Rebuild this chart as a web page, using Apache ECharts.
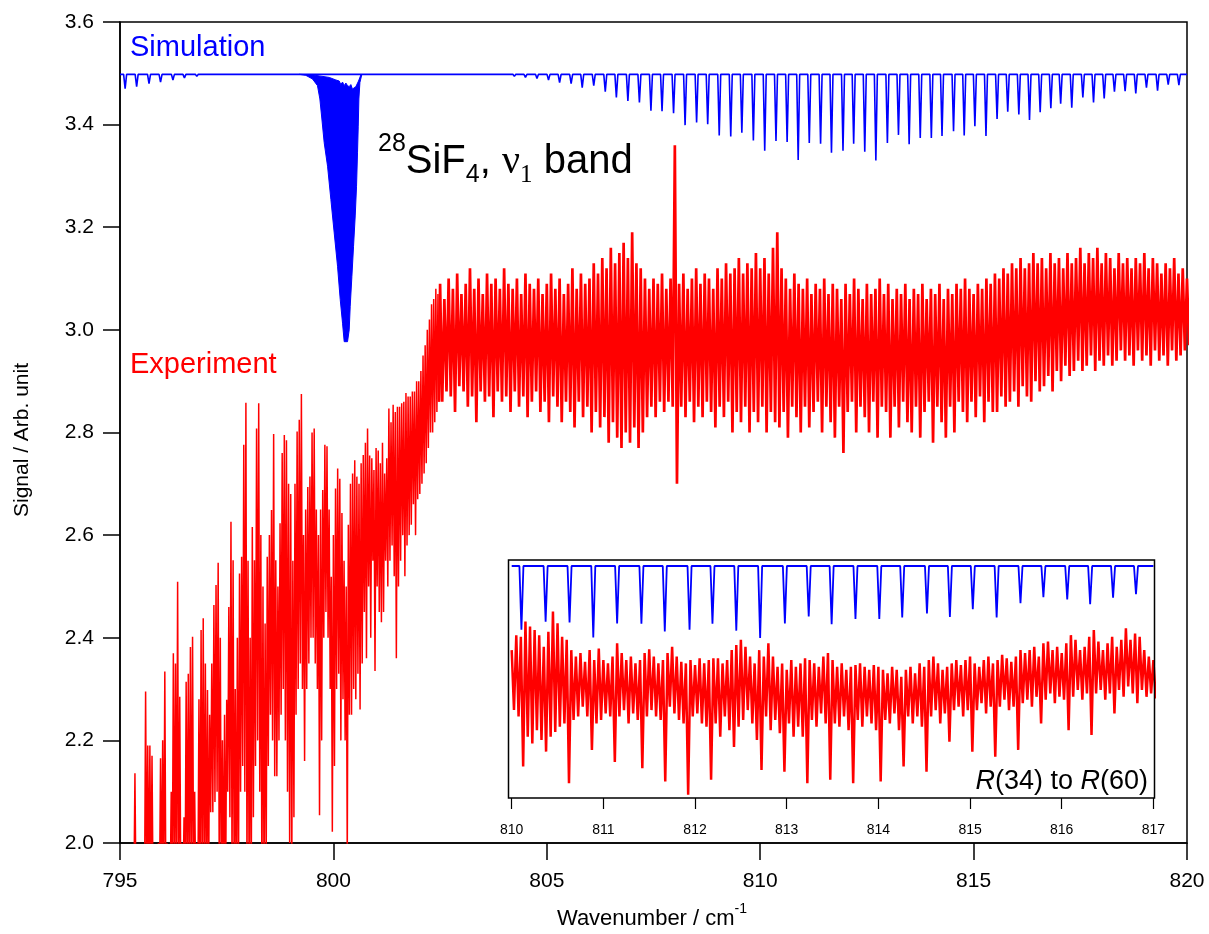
<!DOCTYPE html>
<html>
<head>
<meta charset="utf-8">
<script src="https://cdn.jsdelivr.net/npm/echarts@6/dist/echarts.min.js"></script>
<style>
html,body{margin:0;padding:0;background:#fff;}
#chart{width:1209px;height:934px;}
</style>
</head>
<body>
<div id="chart"></div>
<script>
// ---------- axes ----------
const xTicks = [795, 800, 805, 810, 815, 820];
const yTicks = [2.0, 2.2, 2.4, 2.6, 2.8, 3.0, 3.2, 3.4, 3.6];
const insetTicks = [810, 811, 812, 813, 814, 815, 816, 817];

// ---------- simulated spectrum (28SiF4 nu1) ----------
const simBaseline = 3.498;
// P-branch lines [wavenumber, minimum]
const pBranchLines = [
  [795.12,3.470],[795.39,3.474],[795.68,3.480],[795.95,3.483],[796.24,3.487],
  [796.51,3.491],[796.80,3.494],[797.07,3.496],[797.34,3.497],[797.61,3.497]
];
// R-branch lines [wavenumber, minimum]
const rBranchLines = [
  [803.11,3.498],[803.38,3.497],[803.65,3.497],[803.93,3.495],[804.24,3.494],
  [804.50,3.492],[804.77,3.490],[805.04,3.487],[805.30,3.482],[805.57,3.480],
  [805.83,3.472],[806.10,3.476],[806.37,3.464],[806.63,3.453],[806.90,3.446],
  [807.17,3.443],[807.44,3.427],[807.70,3.426],[807.97,3.422],[808.24,3.399],
  [808.51,3.404],[808.77,3.401],[809.04,3.379],[809.31,3.377],[809.57,3.384],
  [809.84,3.369],[810.106,3.349],[810.37,3.368],[810.631,3.366],[810.89,3.331],
  [811.15,3.364],[811.415,3.363],[811.67,3.345],[811.94,3.349],[812.19,3.363],
  [812.45,3.347],[812.71,3.330],[812.98,3.364],[813.24,3.380],[813.49,3.362],
  [813.75,3.374],[814.01,3.374],[814.26,3.378],[814.53,3.387],[814.78,3.379],
  [815.03,3.397],[815.29,3.378],[815.55,3.411],[815.80,3.425],[816.06,3.420],
  [816.31,3.409],[816.56,3.424],[816.81,3.432],[817.04,3.441],[817.30,3.433],
  [817.56,3.453],[817.81,3.443],[818.06,3.451],[818.30,3.464],[818.55,3.465],
  [818.80,3.461],[819.05,3.472],[819.31,3.466],[819.56,3.478],[819.81,3.477]
];
// Q-branch envelope: upper edge and lower edge, left to right
const qBranchTop = [
  [799.198,3.498],[799.510,3.497],[799.667,3.495],[799.902,3.492],[800.058,3.487],
  [800.136,3.485],[800.175,3.478],[800.214,3.483],[800.253,3.476],[800.292,3.481],
  [800.331,3.476],[800.370,3.474],[800.409,3.478],[800.448,3.469],[800.487,3.472],
  [800.526,3.474],[800.589,3.485],[800.644,3.497],[800.667,3.498]
];
const qBranchBottom = [
  [799.198,3.498],[799.354,3.496],[799.510,3.489],[799.627,3.476],[799.683,3.450],
  [799.730,3.411],[799.784,3.365],[799.863,3.319],[799.941,3.254],[800.019,3.189],
  [800.097,3.124],[800.160,3.059],[800.214,3.013],[800.253,2.977],[800.331,2.977],
  [800.370,3.000],[800.394,3.046],[800.433,3.104],[800.472,3.163],[800.511,3.222],
  [800.542,3.280],[800.565,3.345],[800.582,3.397],[800.597,3.450],[800.621,3.482],
  [800.667,3.498]
];

// ---------- measured spectrum: [wavenumber, bin maximum, bin minimum] ----------
const expPBranch = [
  [795.30,1.95,1.90],[795.35,2.136,1.90],[795.40,1.95,1.90],[795.45,1.95,1.90],[795.50,1.95,1.90],
  [795.55,1.95,1.90],[795.60,2.295,1.90],[795.65,2.19,1.90],[795.70,2.19,1.90],[795.75,2.17,1.90],
  [795.80,1.95,1.90],[795.85,1.95,1.90],[795.90,2.00,1.90],[795.95,2.165,1.90],[796.00,2.20,1.90],
  [796.05,2.334,1.90],[796.10,2.00,1.90],[796.15,1.95,1.90],[796.20,2.10,1.90],[796.25,2.37,1.90],
  [796.30,2.35,1.90],[796.35,2.509,1.90],[796.40,2.285,1.90],[796.45,2.00,1.90],[796.50,2.05,1.90],
  [796.55,2.314,1.90],[796.60,2.33,1.90],[796.65,2.382,1.90],[796.70,2.402,1.90],[796.75,2.10,1.90],
  [796.80,2.00,1.90],[796.85,2.28,1.90],[796.90,2.415,1.90],[796.95,2.438,1.90],[797.00,2.35,1.90],
  [797.05,2.298,1.90],[797.10,2.25,2.06],[797.15,2.35,2.06],[797.20,2.464,2.08],[797.25,2.503,2.10],
  [797.30,2.546,1.95],[797.35,2.40,1.90],[797.40,2.20,1.90],[797.45,2.25,1.90],[797.50,2.279,2.10],
  [797.55,2.46,2.05],[797.60,2.626,1.95],[797.65,2.551,1.90],[797.70,2.30,1.90],[797.75,2.40,1.90],
  [797.80,2.525,2.10],[797.85,2.558,2.15],[797.90,2.776,2.10],[797.95,2.858,1.95],[798.00,2.55,1.90],
  [798.05,2.40,1.90],[798.10,2.616,2.05],[798.15,2.551,2.15],[798.20,2.808,2.20],[798.25,2.857,2.10],
  [798.30,2.60,1.90],[798.35,2.50,1.90],[798.40,2.428,1.95],[798.45,2.558,2.15],[798.50,2.60,2.25],
  [798.55,2.649,2.20],[798.60,2.797,2.13],[798.65,2.551,2.13],[798.70,2.50,2.20],[798.75,2.623,2.25],
  [798.80,2.76,2.30],[798.85,2.795,2.20],[798.90,2.785,2.10],[798.95,2.70,2.00],[799.00,2.68,1.95],
  [799.05,2.55,2.05],[799.10,2.70,2.25],[799.15,2.802,2.30],[799.20,2.825,2.35],[799.25,2.875,2.30],
  [799.30,2.60,2.16],[799.35,2.65,2.30],[799.40,2.694,2.35],[799.45,2.714,2.40],[799.50,2.80,2.40],
  [799.55,2.808,2.35],[799.60,2.65,2.30],[799.65,2.60,2.054],[799.70,2.65,2.20],[799.75,2.688,2.40],
  [799.80,2.776,2.45],[799.85,2.773,2.40],[799.90,2.65,2.30],[799.95,2.519,2.022],[800.00,2.60,2.15],
  [800.05,2.691,2.30],[800.10,2.73,2.33],[800.15,2.71,2.20],[800.20,2.643,2.28],[800.25,2.55,2.20],
  [800.30,2.50,1.97],[800.35,2.62,2.25],[800.40,2.70,2.25],[800.45,2.72,2.30],[800.50,2.746,2.28],
  [800.55,2.714,2.33],[800.60,2.70,2.26],[800.65,2.74,2.35],[800.70,2.756,2.45],[800.75,2.78,2.36],
  [800.80,2.808,2.50],[800.85,2.755,2.40],[800.90,2.75,2.55],[800.95,2.727,2.335],[801.00,2.77,2.50],
  [801.05,2.765,2.45],[801.10,2.74,2.43],[801.15,2.78,2.45],[801.20,2.72,2.55],[801.25,2.75,2.50],
  [801.30,2.847,2.55],[801.35,2.82,2.58],[801.40,2.854,2.52],[801.45,2.84,2.36],[801.50,2.85,2.50],
  [801.55,2.85,2.55],[801.60,2.857,2.60],[801.65,2.86,2.52],[801.70,2.877,2.58],[801.75,2.87,2.60],
  [801.80,2.87,2.62],[801.85,2.88,2.66],[801.90,2.88,2.60],[801.95,2.90,2.67],[802.00,2.90,2.68],
  [802.05,2.92,2.70],[802.10,2.95,2.72],[802.15,2.97,2.74],[802.20,3.00,2.77],[802.25,3.02,2.80],
  [802.30,3.05,2.80],[802.35,3.06,2.82],[802.40,3.08,2.84],[802.45,3.07,2.86]
];
const expRBranch = [
  [802.5,3.09,2.86],[802.6,3.06,2.88],[802.7,3.10,2.87],[802.8,3.08,2.84],[802.9,3.11,2.89],
  [803.0,3.07,2.88],[803.1,3.09,2.85],[803.2,3.12,2.87],[803.3,3.08,2.82],[803.4,3.10,2.88],
  [803.5,3.07,2.86],[803.6,3.11,2.87],[803.7,3.09,2.83],[803.8,3.10,2.88],[803.9,3.08,2.86],
  [804.0,3.12,2.87],[804.1,3.09,2.84],[804.2,3.08,2.88],[804.3,3.10,2.85],[804.4,3.07,2.87],
  [804.5,3.11,2.83],[804.6,3.09,2.86],[804.7,3.08,2.88],[804.8,3.10,2.84],[804.9,3.07,2.86],
  [805.0,3.09,2.82],[805.1,3.11,2.87],[805.2,3.08,2.85],[805.3,3.10,2.82],[805.4,3.07,2.86],
  [805.5,3.09,2.84],[805.6,3.12,2.81],[805.7,3.08,2.86],[805.8,3.11,2.83],[805.9,3.09,2.85],
  [806.0,3.10,2.80],[806.1,3.13,2.84],[806.2,3.11,2.81],[806.3,3.14,2.83],[806.4,3.12,2.78],
  [806.5,3.16,2.82],[806.6,3.13,2.79],[806.7,3.15,2.77],[806.8,3.17,2.80],[806.9,3.14,2.78],
  [807.0,3.19,2.81],[807.1,3.13,2.77],[807.2,3.12,2.80],[807.3,3.10,2.83],[807.4,3.08,2.85],
  [807.5,3.10,2.83],[807.6,3.09,2.86],[807.7,3.11,2.84],[807.8,3.08,2.86],[807.9,3.10,2.85],
  [808.0,3.36,2.70],[808.1,3.09,2.85],[808.2,3.11,2.83],[808.3,3.08,2.86],[808.4,3.10,2.82],
  [808.5,3.12,2.85],[808.6,3.09,2.83],[808.7,3.11,2.86],[808.8,3.10,2.84],[808.9,3.08,2.81],
  [809.0,3.12,2.85],[809.1,3.10,2.83],[809.2,3.13,2.86],[809.3,3.11,2.80],[809.4,3.12,2.84],
  [809.5,3.14,2.82],[809.6,3.11,2.85],[809.7,3.13,2.80],[809.8,3.12,2.84],[809.9,3.15,2.82],
  [810.0,3.12,2.85],[810.1,3.14,2.80],[810.2,3.11,2.84],[810.3,3.16,2.82],[810.4,3.19,2.81],
  [810.5,3.12,2.84],[810.6,3.10,2.79],[810.7,3.08,2.85],[810.8,3.11,2.83],[810.9,3.09,2.80],
  [811.0,3.08,2.85],[811.1,3.10,2.81],[811.2,3.07,2.84],[811.3,3.09,2.86],[811.4,3.08,2.80],
  [811.5,3.10,2.85],[811.6,3.07,2.82],[811.7,3.09,2.79],[811.8,3.08,2.85],[811.9,3.06,2.76],
  [812.0,3.09,2.84],[812.1,3.07,2.86],[812.2,3.10,2.80],[812.3,3.08,2.85],[812.4,3.06,2.83],
  [812.5,3.09,2.80],[812.6,3.07,2.86],[812.7,3.08,2.79],[812.8,3.10,2.85],[812.9,3.07,2.84],
  [813.0,3.09,2.79],[813.1,3.06,2.85],[813.2,3.08,2.81],[813.3,3.07,2.86],[813.4,3.09,2.82],
  [813.5,3.06,2.80],[813.6,3.08,2.85],[813.7,3.07,2.79],[813.8,3.09,2.84],[813.9,3.06,2.86],
  [814.0,3.08,2.78],[814.1,3.07,2.85],[814.2,3.09,2.82],[814.3,3.06,2.79],[814.4,3.08,2.85],
  [814.5,3.07,2.80],[814.6,3.09,2.86],[814.7,3.08,2.84],[814.8,3.10,2.82],[814.9,3.08,2.86],
  [815.0,3.07,2.83],[815.1,3.09,2.87],[815.2,3.08,2.82],[815.3,3.10,2.86],[815.4,3.09,2.84],
  [815.5,3.11,2.84],[815.6,3.10,2.87],[815.7,3.12,2.85],[815.8,3.11,2.86],[815.9,3.13,2.88],
  [816.0,3.12,2.85],[816.1,3.14,2.89],[816.2,3.12,2.87],[816.3,3.13,2.86],[816.4,3.15,2.90],
  [816.5,3.13,2.88],[816.6,3.14,2.89],[816.7,3.12,2.91],[816.8,3.15,2.88],[816.9,3.13,2.92],
  [817.0,3.14,2.90],[817.1,3.12,2.93],[817.2,3.15,2.91],[817.3,3.13,2.92],[817.4,3.14,2.94],
  [817.5,3.16,2.92],[817.6,3.13,2.93],[817.7,3.15,2.95],[817.8,3.14,2.92],[817.9,3.16,2.94],
  [818.0,3.13,2.93],[818.1,3.15,2.95],[818.2,3.14,2.93],[818.3,3.12,2.94],[818.4,3.15,2.96],
  [818.5,3.13,2.94],[818.6,3.14,2.95],[818.7,3.12,2.93],[818.8,3.14,2.96],[818.9,3.13,2.94],
  [819.0,3.15,2.95],[819.1,3.12,2.93],[819.2,3.14,2.96],[819.3,3.13,2.94],[819.4,3.11,2.95],
  [819.5,3.13,2.93],[819.6,3.12,2.96],[819.7,3.14,2.94],[819.8,3.11,2.95],[819.9,3.12,2.96],
  [820.0,3.10,2.97]
];
// Inset: R(34) to R(60) region at finer sampling
const insetExp = [
  [810.00,3.073,2.933],[810.05,3.108,2.918],[810.10,3.104,2.801],[810.15,3.140,2.871],[810.20,3.128,2.855],
  [810.25,3.120,2.886],[810.30,3.108,2.863],[810.35,3.081,2.836],[810.40,3.116,2.871],[810.45,3.163,2.882],
  [810.50,3.136,2.894],[810.55,3.104,2.902],[810.60,3.097,2.762],[810.65,3.073,2.910],[810.70,3.058,2.918],
  [810.75,3.066,2.941],[810.80,3.046,2.918],[810.85,3.073,2.840],[810.90,3.050,2.902],[810.95,3.077,2.910],
  [811.00,3.050,2.925],[811.05,3.042,2.918],[811.10,3.058,2.812],[811.15,3.089,2.918],[811.20,3.066,2.933],
  [811.25,3.050,2.902],[811.30,3.058,2.925],[811.35,3.042,2.910],[811.40,3.050,2.797],[811.45,3.066,2.918],
  [811.50,3.075,2.933],[811.55,3.058,2.918],[811.60,3.042,2.910],[811.65,3.050,2.766],[811.70,3.066,2.941],
  [811.75,3.081,2.925],[811.80,3.058,2.910],[811.85,3.046,2.902],[811.90,3.042,2.735],[811.95,3.050,2.918],
  [812.00,3.038,2.925],[812.05,3.054,2.902],[812.10,3.042,2.894],[812.15,3.050,2.770],[812.20,3.054,2.902],
  [812.25,3.054,2.871],[812.30,3.042,2.918],[812.35,3.050,2.886],[812.40,3.073,2.847],[812.45,3.085,2.894],
  [812.50,3.097,2.910],[812.55,3.081,2.933],[812.60,3.058,2.902],[812.65,3.042,2.863],[812.70,3.073,2.793],
  [812.75,3.058,2.918],[812.80,3.089,2.886],[812.85,3.058,2.910],[812.90,3.034,2.879],[812.95,3.042,2.789],
  [813.00,3.027,2.902],[813.05,3.050,2.871],[813.10,3.034,2.894],[813.15,3.042,2.871],[813.20,3.054,2.762],
  [813.25,3.050,2.910],[813.30,3.042,2.894],[813.35,3.034,2.925],[813.40,3.058,2.902],[813.45,3.066,2.770],
  [813.50,3.050,2.902],[813.55,3.034,2.894],[813.60,3.042,2.918],[813.65,3.027,2.886],[813.70,3.034,2.762],
  [813.75,3.038,2.910],[813.80,3.042,2.894],[813.85,3.034,2.918],[813.90,3.027,2.902],[813.95,3.038,2.886],
  [814.00,3.034,2.766],[814.05,3.027,2.910],[814.10,3.019,2.902],[814.15,3.034,2.925],[814.20,3.027,2.886],
  [814.25,3.011,2.801],[814.30,3.027,2.918],[814.35,3.034,2.902],[814.40,3.019,2.918],[814.45,3.042,2.894],
  [814.50,3.034,2.789],[814.55,3.050,2.918],[814.60,3.058,2.933],[814.65,3.042,2.902],[814.70,3.027,2.925],
  [814.75,3.034,2.859],[814.80,3.042,2.933],[814.85,3.050,2.941],[814.90,3.038,2.918],[814.95,3.050,2.933],
  [815.00,3.058,2.836],[815.05,3.042,2.933],[815.10,3.034,2.949],[815.15,3.050,2.925],[815.20,3.058,2.941],
  [815.25,3.042,2.824],[815.30,3.050,2.941],[815.35,3.062,2.957],[815.40,3.054,2.933],[815.45,3.046,2.941],
  [815.50,3.058,2.840],[815.55,3.073,2.949],[815.60,3.066,2.957],[815.65,3.073,2.941],[815.70,3.081,2.964],
  [815.75,3.058,2.902],[815.80,3.089,2.957],[815.85,3.093,2.972],[815.90,3.073,2.949],[815.95,3.081,2.964],
  [816.00,3.066,2.957],[816.05,3.089,2.886],[816.10,3.108,2.964],[816.15,3.097,2.980],[816.20,3.073,2.957],
  [816.25,3.081,2.972],[816.30,3.104,2.875],[816.35,3.120,2.972],[816.40,3.093,2.980],[816.45,3.073,2.957],
  [816.50,3.089,2.972],[816.55,3.104,2.925],[816.60,3.081,2.980],[816.65,3.097,2.964],[816.70,3.124,2.988],
  [816.75,3.097,2.972],[816.80,3.112,2.949],[816.85,3.104,2.980],[816.90,3.073,2.964],[816.95,3.058,2.972],
  [817.00,3.050,2.960]
];

// ---------- helpers that turn the tables into drawable point lists ----------
// Each bin contributes its maximum then its minimum, so the trace swings between them.
function binTrace(rows) {
  const pts = [];
  for (let i = 0; i < rows.length; i++) {
    const next = i < rows.length - 1 ? rows[i + 1][0] : rows[i][0] + (rows[i][0] - rows[i - 1][0]);
    pts.push([rows[i][0], rows[i][1]]);
    pts.push([(rows[i][0] + next) / 2, rows[i][2]]);
  }
  return pts;
}
// Baseline with a narrow dip at every line position.
function stickTrace(lines, base, half, x0, x1) {
  const pts = [[x0, base]];
  lines.forEach(function (l) {
    pts.push([l[0] - half, base], [l[0], l[1]], [l[0] + half, base]);
  });
  pts.push([x1, base]);
  return pts;
}

const FONT = "'Liberation Sans', Arial, Helvetica, sans-serif";
const SERIF = "'Liberation Serif', 'DejaVu Serif', serif";
const BLUE = '#0000ff';
const RED = '#ff0000';

const mainSim = stickTrace(pBranchLines.concat(rBranchLines), simBaseline, 0.035, 795, 820);
const expLowTrace = binTrace(expPBranch);
const expHighTrace = [expLowTrace[expLowTrace.length - 1]].concat(binTrace(expRBranch));
const insetLines = rBranchLines.filter(l => l[0] >= 810 && l[0] <= 817);
const insetSim = stickTrace(insetLines, simBaseline, 0.022, 810, 817);
const insetTrace = binTrace(insetExp);
const qPolygon = qBranchTop.concat(qBranchBottom.slice().reverse());

const chart = echarts.init(document.getElementById('chart'), null, { renderer: 'canvas' });

const option = {
  animation: false,
  backgroundColor: '#fff',
  textStyle: { fontFamily: FONT },
  grid: [
    { left: 120, top: 22, right: 22, bottom: 91, show: true, borderColor: '#000', borderWidth: 1.5, backgroundColor: 'transparent' },
    { left: 511.7, top: 560, width: 641.7, height: 238, show: false }
  ],
  xAxis: [
    {
      type: 'value', gridIndex: 0, min: 795, max: 820, interval: 5,
      axisLine: { show: true, onZero: false, lineStyle: { color: '#000', width: 1.5 } },
      axisTick: { show: true, inside: false, length: 17, customValues: xTicks, lineStyle: { color: '#000', width: 1.5 } },
      axisLabel: { show: true, margin: 28, fontSize: 21, color: '#000', fontFamily: FONT, customValues: xTicks },
      splitLine: { show: false }
    },
    {
      type: 'value', gridIndex: 1, min: 810, max: 817, interval: 1,
      axisLine: { show: false, onZero: false },
      axisTick: { show: true, inside: false, length: 11, customValues: insetTicks, lineStyle: { color: '#000', width: 1.2 } },
      axisLabel: { show: true, margin: 25, fontSize: 14, color: '#000', fontFamily: FONT, customValues: insetTicks },
      splitLine: { show: false }
    }
  ],
  yAxis: [
    {
      type: 'value', gridIndex: 0, min: 2.0, max: 3.6, interval: 0.2,
      axisLine: { show: true, onZero: false, lineStyle: { color: '#000', width: 1.5 } },
      axisTick: { show: true, inside: false, length: 17, customValues: yTicks, lineStyle: { color: '#000', width: 1.5 } },
      axisLabel: { show: true, margin: 26, fontSize: 21, color: '#000', fontFamily: FONT, customValues: yTicks,
        formatter: v => Number(v).toFixed(1) },
      splitLine: { show: false }
    },
    { type: 'value', gridIndex: 1, min: 2.956, max: 3.512, show: false, splitLine: { show: false } },
    { type: 'value', gridIndex: 1, min: 2.7276, max: 3.2836, show: false, splitLine: { show: false } }
  ],
  series: [
    {
      name: 'Experiment', type: 'line', xAxisIndex: 0, yAxisIndex: 0, data: expLowTrace,
      symbol: 'none', clip: true, z: 2,
      lineStyle: { color: RED, width: 1.5 }
    },
    {
      name: 'Experiment (R side)', type: 'line', xAxisIndex: 0, yAxisIndex: 0, data: expHighTrace,
      symbol: 'none', clip: true, z: 2,
      lineStyle: { color: RED, width: 2.7, join: 'miter', miterLimit: 4 }
    },
    {
      name: 'Simulation', type: 'line', xAxisIndex: 0, yAxisIndex: 0, data: mainSim,
      symbol: 'none', clip: true, z: 3,
      lineStyle: { color: BLUE, width: 1.6 }
    },
    {
      name: 'Q branch', type: 'custom', coordinateSystem: 'cartesian2d', xAxisIndex: 0, yAxisIndex: 0,
      data: qPolygon, clip: true, z: 4,
      renderItem: function (params, api) {
        if (params.dataIndex !== 0) return { type: 'group', children: [] };
        return {
          type: 'polygon',
          shape: { points: qPolygon.map(p => api.coord(p)) },
          style: { fill: BLUE, stroke: BLUE, lineWidth: 1 }
        };
      }
    },
    {
      name: 'Simulation (inset)', type: 'line', xAxisIndex: 1, yAxisIndex: 1, data: insetSim,
      symbol: 'none', clip: true, z: 6,
      lineStyle: { color: BLUE, width: 1.8 }
    },
    {
      name: 'Experiment (inset)', type: 'line', xAxisIndex: 1, yAxisIndex: 2, data: insetTrace,
      symbol: 'none', clip: true, z: 5,
      lineStyle: { color: RED, width: 2.5, join: 'miter', miterLimit: 4 }
    }
  ],
  graphic: [
    {
      type: 'rect', z: 10, silent: true,
      shape: { x: 508.5, y: 560, width: 646, height: 238 },
      style: { fill: 'none', stroke: '#000', lineWidth: 1.5 }
    },
    {
      type: 'text', z: 10, x: 130, y: 48, silent: true,
      style: { text: 'Simulation', fill: BLUE, font: '29px ' + FONT, align: 'left', verticalAlign: 'middle' }
    },
    {
      type: 'text', z: 10, x: 130, y: 365, silent: true,
      style: { text: 'Experiment', fill: RED, font: '29px ' + FONT, align: 'left', verticalAlign: 'middle' }
    },
    {
      type: 'text', z: 10, x: 378, y: 188, silent: true,
      style: {
        text: '{sup|28}{b|SiF}{sub|4}{b|, }{nu|ν}{subn|1}{b| band}',
        align: 'left', verticalAlign: 'bottom', fill: '#000',
        rich: {
          sup: { fontSize: 25, fontFamily: FONT, lineHeight: 26, padding: [0, 0, 31, 0], verticalAlign: 'bottom', fill: '#000' },
          b: { fontSize: 40, fontFamily: FONT, lineHeight: 42, padding: [0, 0, 6, 0], verticalAlign: 'bottom', fill: '#000' },
          sub: { fontSize: 25, fontFamily: FONT, lineHeight: 26, verticalAlign: 'bottom', fill: '#000' },
          nu: { fontSize: 40, fontFamily: SERIF, lineHeight: 42, padding: [0, 0, 6, 0], verticalAlign: 'bottom', fill: '#000' },
          subn: { fontSize: 25, fontFamily: SERIF, lineHeight: 26, verticalAlign: 'bottom', fill: '#000' }
        }
      }
    },
    {
      type: 'text', z: 10, x: 1148, y: 795, silent: true,
      style: {
        text: '{i|R}{n|(34) to }{i|R}{n|(60)}',
        align: 'right', verticalAlign: 'bottom', fill: '#000',
        rich: {
          i: { fontSize: 27, fontFamily: FONT, fontStyle: 'italic', lineHeight: 28, verticalAlign: 'bottom', fill: '#000' },
          n: { fontSize: 27, fontFamily: FONT, lineHeight: 28, verticalAlign: 'bottom', fill: '#000' }
        }
      }
    },
    {
      type: 'text', z: 10, x: 652, y: 930, silent: true,
      style: {
        text: '{b|Wavenumber / cm}{s|-1}',
        align: 'center', verticalAlign: 'bottom', fill: '#000',
        rich: {
          b: { fontSize: 22, fontFamily: FONT, lineHeight: 22, verticalAlign: 'bottom', fill: '#000' },
          s: { fontSize: 14, fontFamily: FONT, lineHeight: 14, padding: [0, 0, 14, 0], verticalAlign: 'bottom', fill: '#000' }
        }
      }
    },
    {
      type: 'text', z: 10, x: 22, y: 440, rotation: Math.PI / 2, silent: true,
      style: { text: 'Signal / Arb. unit', fill: '#000', font: '21px ' + FONT, align: 'center', verticalAlign: 'middle' }
    }
  ]
};

chart.setOption(option);
</script>
</body>
</html>
